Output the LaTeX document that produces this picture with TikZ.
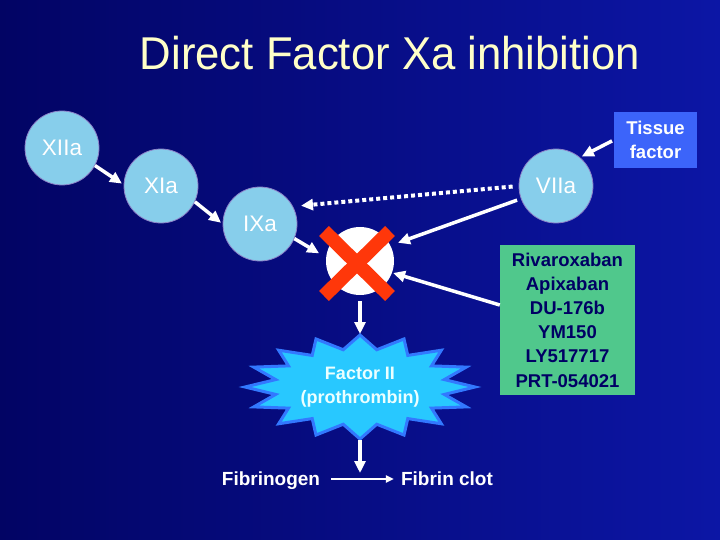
\documentclass[tikz,border=0pt]{standalone}
\usepackage{fontspec}
\setmainfont{Liberation Sans}
\usetikzlibrary{arrows.meta,calc}
\definecolor{bgdark}{RGB}{2,4,100}
\definecolor{bglight}{RGB}{12,22,165}
\definecolor{circfill}{RGB}{135,206,235}
\definecolor{circline}{RGB}{140,130,200}
\definecolor{tfblue}{RGB}{60,100,250}
\definecolor{druggreen}{RGB}{80,200,140}
\definecolor{drugtext}{RGB}{0,0,100}
\definecolor{xred}{RGB}{255,55,10}
\definecolor{titlecol}{RGB}{255,255,200}
\definecolor{starfill}{RGB}{40,200,255}
\definecolor{starline}{RGB}{50,120,255}
\begin{document}
\begin{tikzpicture}[x=1pt,y=-1pt,
  factor/.style={circle,fill=circfill,draw=circline,line width=0.8pt,minimum size=74pt,inner sep=0pt,text=white,font=\fontsize{22.5}{24}\selectfont},
  arr/.style={draw=white,line width=3.5pt,-{Triangle[length=12pt,width=11pt]}},
  dotarr/.style={draw=white,line width=4pt,dash pattern=on 4pt off 3pt,-{Triangle[length=12pt,width=11pt]}},
  thinarr/.style={draw=white,line width=2pt,-{Triangle[length=8pt,width=7pt]}},
  boldtxt/.style={text=white,font=\bfseries\fontsize{19}{24}\selectfont,inner sep=0pt}
]
\useasboundingbox (0,0) rectangle (720,540);
\shade[left color=bgdark,right color=bglight] (0,0) rectangle (720,540);

\node[font=\fontsize{46}{50}\selectfont,text=titlecol] (title) at (390,53) {\scalebox{0.95}[1]{Direct Factor Xa inhibition}};

\node[factor] (xiia) at (62,148) {XIIa};
\node[factor] (xia) at (161,186) {XIa};
\node[factor] (ixa) at (260,224) {IXa};
\node[factor] (viia) at (556,186) {VIIa};
\node[fill=tfblue,minimum width=83pt,minimum height=56pt,inner sep=0pt,text=white,
      font=\bfseries\fontsize{18.5}{24}\selectfont,align=center] (tf) at (655.5,140) {Tissue\\factor};

\node[circle,fill=white,minimum size=68pt,inner sep=0pt] (wc) at (360,261) {};
\draw[xred,line width=14pt] ($(wc)+(-36,-30)$) -- ($(wc)+(30,35)$);
\draw[xred,line width=14pt] ($(wc)+(30,-30)$) -- ($(wc)+(-36,35)$);

\node[fill=druggreen,minimum width=135pt,minimum height=150pt,inner sep=0pt,text=drugtext,
      font=\bfseries\fontsize{18.5}{24.2}\selectfont,align=center] (drug) at (567.5,320)
      {Rivaroxaban\\Apixaban\\DU-176b\\YM150\\LY517717\\PRT-054021};

\filldraw[fill=starfill,draw=starline,line width=3pt,line join=miter]
  plot[samples=32,domain=0:31,variable=\k]
  ({360+(mod(round(\k),2)==0 ? 115 : 86)*cos(\k*11.25)},{387-(mod(round(\k),2)==0 ? 52 : 38)*sin(\k*11.25)}) -- cycle;
\node[boldtxt,font=\bfseries\fontsize{18}{24}\selectfont,align=center,text={rgb,255:red,235;green,255;blue,255}] (fII) at (360,387) {Factor II\\(prothrombin)};
\coordinate (startop) at (360,334);
\coordinate (starbot) at (360,440);

\node[boldtxt,anchor=base] (fgen) at (271,485) {Fibrinogen};
\node[boldtxt,anchor=base] (fclot) at (447,485) {Fibrin clot};
\coordinate (jn) at (360,473);
\coordinate (hl) at (360,479);

\draw[arr,shorten >=2pt] (xiia.-28) -- (xia.178);
\draw[arr,shorten >=2pt] (xia.-25) -- (ixa.180);
\draw[arr,shorten >=8pt] (ixa.-23) -- (wc.174);
\draw[arr,shorten <=2pt,shorten >=2pt] (tf.west) -- (viia.50);
\draw[dotarr,shorten <=6pt,shorten >=8pt] (viia.west) -- (ixa.28);
\draw[arr,shorten <=4pt,shorten >=8pt] (viia.200) -- (wc.27);
\draw[arr,shorten >=1pt] ($(drug.west)+(0,-15)$) -- (wc.-20);
\draw[arr,shorten <=6pt] (wc.south) -- (startop);
\draw[arr] (starbot) -- (jn);
\draw[thinarr,shorten <=11pt,shorten >=7pt] (fgen.east |- hl) -- (fclot.west |- hl);
\end{tikzpicture}
\end{document}
